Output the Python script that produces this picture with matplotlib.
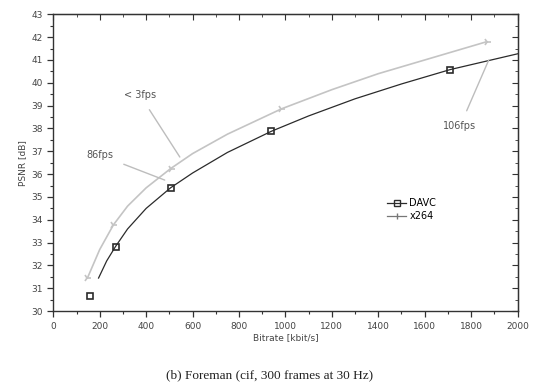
import matplotlib.pyplot as plt
from matplotlib.ticker import MultipleLocator

# marker points
davc_rate = [160, 268, 505, 940, 1710]
davc_psnr = [30.65, 32.83, 35.4, 37.88, 40.58]
x264_rate = [147, 259, 505, 983, 1867]
x264_psnr = [31.45, 33.78, 36.24, 38.86, 41.8]

# fitted curves
davc_fit_rate = [195, 230, 268, 320, 400, 505, 600, 750, 940, 1100, 1300, 1500, 1710, 2000]
davc_fit_psnr = [31.45, 32.2, 32.83, 33.6, 34.5, 35.4, 36.05, 36.95, 37.88, 38.55, 39.3, 39.95, 40.58, 41.27]
x264_fit_rate = [147, 200, 259, 320, 400, 505, 600, 750, 983, 1200, 1400, 1600, 1867]
x264_fit_psnr = [31.45, 32.7, 33.78, 34.6, 35.4, 36.24, 36.9, 37.75, 38.86, 39.7, 40.4, 41.0, 41.8]

dark = '#2b2b2b'
light = '#c4c4c4'

fig = plt.figure(figsize=(5.33, 3.87), dpi=100)
ax = fig.add_axes([0.100, 0.196, 0.871, 0.767])

ax.plot(davc_fit_rate, davc_fit_psnr, color=dark, lw=0.9)
ax.plot(x264_fit_rate, x264_fit_psnr, color=light, lw=1.2)
ax.plot(davc_rate, davc_psnr, 's', ms=5, mfc='none', mec=dark, mew=1.2)
ax.plot(x264_rate, x264_psnr, '4', ms=6, color=light, mew=1.2)

# legend entries
ax.plot([], [], '-s', color=dark, lw=0.9, ms=4, mfc='none', mew=1.0, label='DAVC')
ax.plot([], [], '-', color='#777777', lw=0.9, marker='|', ms=4, label='x264')
handles, labels = ax.get_legend_handles_labels()
ax.legend(handles[-2:], labels[-2:], loc='upper left', bbox_to_anchor=(0.70, 0.41),
          frameon=False, fontsize=7, handlelength=2.0, labelspacing=0.3,
          handletextpad=0.3)

# annotations
ann_color = '#bdbdbd'
ax.annotate('< 3fps', xy=(545, 36.75), xytext=(373, 39.47), fontsize=7, color='#555555',
            ha='center', va='center',
            arrowprops=dict(arrowstyle='-', color=ann_color, lw=1.0, shrinkA=6, shrinkB=0))
ax.annotate('86fps', xy=(480, 35.74), xytext=(200, 36.84), fontsize=7, color='#555555',
            ha='center', va='center',
            arrowprops=dict(arrowstyle='-', color=ann_color, lw=1.0, shrinkA=6, shrinkB=0))
ax.annotate('106fps', xy=(1876, 41.0), xytext=(1752, 38.1), fontsize=7, color='#555555',
            ha='center', va='center',
            arrowprops=dict(arrowstyle='-', color=ann_color, lw=1.0, shrinkA=6, shrinkB=0))

ax.set_xlim(0, 2000)
ax.set_ylim(30, 43)
ax.xaxis.set_major_locator(MultipleLocator(200))
ax.xaxis.set_minor_locator(MultipleLocator(100))
ax.yaxis.set_major_locator(MultipleLocator(1))
ax.yaxis.set_minor_locator(MultipleLocator(0.5))

ax.tick_params(which='both', direction='out', top=False, right=False,
               labelsize=6.5, labelcolor='#444444', color='#333333')
ax.tick_params(which='major', length=4, width=0.9)
ax.tick_params(which='minor', length=2.5, width=0.8)
sec_x = ax.secondary_xaxis('top')
sec_x.xaxis.set_major_locator(MultipleLocator(200))
sec_x.xaxis.set_minor_locator(MultipleLocator(100))
sec_x.tick_params(which='both', direction='in', labeltop=False, color='#333333')
sec_x.tick_params(which='major', length=4)
sec_x.tick_params(which='minor', length=2.5)
sec_y = ax.secondary_yaxis('right')
sec_y.yaxis.set_major_locator(MultipleLocator(1))
sec_y.yaxis.set_minor_locator(MultipleLocator(0.5))
sec_y.tick_params(which='both', direction='in', labelright=False, color='#333333')
sec_y.tick_params(which='major', length=4)
sec_y.tick_params(which='minor', length=2.5)

for s in ax.spines.values():
    s.set_linewidth(1.0)
    s.set_color('#333333')

ax.set_xlabel('Bitrate [kbit/s]', fontsize=6.5, color='#444444', labelpad=2)
ax.set_ylabel('PSNR [dB]', fontsize=6.5, color='#444444', labelpad=3)

fig.text(0.505, 0.03, '(b) Foreman (cif, 300 frames at 30 Hz)', ha='center', va='center',
         fontsize=9.5, family='Liberation Serif', color='#222222')

fig.savefig('out.png', dpi=100)
